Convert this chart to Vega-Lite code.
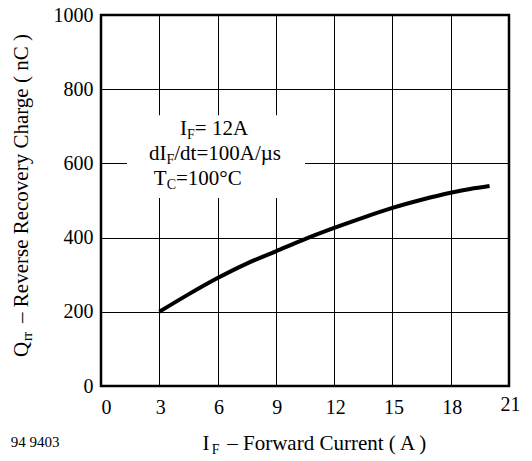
{
  "$schema": "https://vega.github.io/schema/vega-lite/v6.json",
  "autosize": {"type": "none"},
  "padding": {"left": 101, "top": 15, "right": 23, "bottom": 75},
  "width": 408,
  "height": 371,
  "background": "white",
  "config": {
    "view": {"stroke": "black", "strokeWidth": 2.5},
    "font": "Liberation Serif",
    "axis": {"labelFont": "Liberation Serif", "labelFontSize": 20, "labelColor": "black"}
  },
  "datasets": {
    "curve": [
      {"x": 3, "y": 200},
      {"x": 4.5, "y": 247},
      {"x": 6, "y": 291},
      {"x": 7.5, "y": 330},
      {"x": 9, "y": 363},
      {"x": 10.5, "y": 396},
      {"x": 12, "y": 426},
      {"x": 13.5, "y": 454},
      {"x": 15, "y": 480},
      {"x": 16.5, "y": 502},
      {"x": 18, "y": 521},
      {"x": 19, "y": 531},
      {"x": 20, "y": 539}
    ],
    "box": [{"x": 1.34, "x2": 10.5, "y": 507, "y2": 730}],
    "labels": [
      {"t": "I", "x": 4.07, "y": 676, "kind": "main"},
      {"t": "F", "x": 4.43, "y": 676, "kind": "sub"},
      {"t": "= 12A", "x": 4.83, "y": 676, "kind": "main"},
      {"t": "dI", "x": 2.47, "y": 609, "kind": "main"},
      {"t": "F", "x": 3.37, "y": 609, "kind": "sub"},
      {"t": "/dt=100A/µs", "x": 3.77, "y": 609, "kind": "main"},
      {"t": "T", "x": 2.72, "y": 542, "kind": "main"},
      {"t": "C", "x": 3.38, "y": 542, "kind": "sub"},
      {"t": "=100°C", "x": 3.86, "y": 542, "kind": "main"},
      {"t": "I", "x": 5.23, "y": -172.5, "kind": "main"},
      {"t": "F", "x": 5.7, "y": -172.5, "kind": "sub"},
      {"t": "– Forward Current ( A )", "x": 6.5, "y": -172.5, "kind": "main"},
      {"t": "Q", "x": -3.76, "y": 78, "kind": "ymain"},
      {"t": "rr", "x": -3.76, "y": 121, "kind": "ysub"},
      {"t": "– Reverse Recovery Charge ( nC )", "x": -3.76, "y": 170, "kind": "ymain"},
      {"t": "94 9403", "x": -4.65, "y": -164, "kind": "small"}
    ]
  },
  "encoding": {
    "x": {
      "field": "x",
      "type": "quantitative",
      "scale": {"domain": [0, 21], "nice": false, "zero": false},
      "axis": {
        "values": [0, 3, 6, 9, 12, 15, 18, 21],
        "format": "d",
        "title": null,
        "grid": true,
        "gridColor": "black",
        "gridWidth": 1,
        "gridOpacity": 1,
        "ticks": false,
        "domain": false,
        "labelFont": "Liberation Serif",
        "labelFontSize": 20,
        "labelColor": "black",
        "labelPadding": {"condition": {"test": "datum.value == 21", "value": 8}, "value": 11},
        "labelOffset": {"condition": {"test": "datum.value == 0", "value": 5}, "value": 1},
        "labelFlush": false
      }
    },
    "y": {
      "field": "y",
      "type": "quantitative",
      "scale": {"domain": [0, 1000], "nice": false},
      "axis": {
        "values": [0, 200, 400, 600, 800, 1000],
        "format": "d",
        "title": null,
        "grid": true,
        "gridColor": "black",
        "gridWidth": 1,
        "gridOpacity": 1,
        "ticks": false,
        "domain": false,
        "labelFont": "Liberation Serif",
        "labelFontSize": 20,
        "labelColor": "black",
        "labelPadding": 8,
        "labelFlush": false
      }
    }
  },
  "layer": [
    {
      "data": {"name": "box"},
      "mark": {"type": "rect", "fill": "white", "stroke": null},
      "encoding": {"x2": {"field": "x2"}, "y2": {"field": "y2"}}
    },
    {
      "data": {"name": "curve"},
      "mark": {"type": "line", "color": "black", "strokeWidth": 4, "interpolate": "monotone", "strokeCap": "butt"},
      "encoding": {}
    },
    {
      "data": {"name": "labels"},
      "transform": [{"filter": "datum.kind == 'main'"}],
      "mark": {"type": "text", "align": "left", "baseline": "alphabetic", "fontSize": 21, "font": "Liberation Serif", "color": "black"},
      "encoding": {"text": {"field": "t"}}
    },
    {
      "data": {"name": "labels"},
      "transform": [{"filter": "datum.kind == 'sub'"}],
      "mark": {"type": "text", "align": "left", "baseline": "alphabetic", "fontSize": 14, "dy": 4, "font": "Liberation Serif", "color": "black"},
      "encoding": {"text": {"field": "t"}}
    },
    {
      "data": {"name": "labels"},
      "transform": [{"filter": "datum.kind == 'ymain'"}],
      "mark": {"type": "text", "align": "left", "baseline": "alphabetic", "angle": 270, "fontSize": 21, "font": "Liberation Serif", "color": "black"},
      "encoding": {"text": {"field": "t"}}
    },
    {
      "data": {"name": "labels"},
      "transform": [{"filter": "datum.kind == 'ysub'"}],
      "mark": {"type": "text", "align": "left", "baseline": "alphabetic", "angle": 270, "fontSize": 14, "dy": 4, "font": "Liberation Serif", "color": "black"},
      "encoding": {"text": {"field": "t"}}
    },
    {
      "data": {"name": "labels"},
      "transform": [{"filter": "datum.kind == 'small'"}],
      "mark": {"type": "text", "align": "left", "baseline": "alphabetic", "fontSize": 15, "font": "Liberation Serif", "color": "black"},
      "encoding": {"text": {"field": "t"}}
    }
  ]
}
